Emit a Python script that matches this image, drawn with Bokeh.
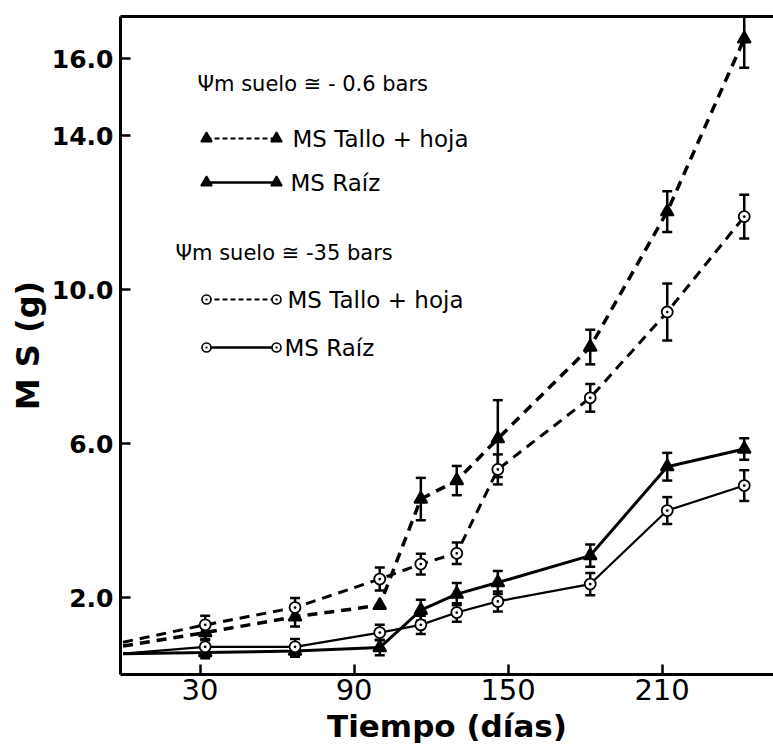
from bokeh.plotting import figure
from bokeh.models import (Range1d, FixedTicker, LinearAxis, Whisker, TeeHead,
                          ColumnDataSource, Label)
from bokeh.embed import file_html
from bokeh.resources import INLINE

# ---------------- data ----------------
days = [32, 67, 100, 116, 130, 146, 182, 212, 242]
start_day = 0

tallo_06 = [1.09, 1.50, 1.80, 4.56, 5.04, 6.13, 8.51, 12.03, 16.52]
tallo_06_err = [0.20, 0.25, 0.0, 0.55, 0.38, 1.00, 0.45, 0.53, 0.75]
tallo_06_start = 0.74

raiz_06 = [0.57, 0.61, 0.70, 1.67, 2.09, 2.39, 3.09, 5.40, 5.86]
raiz_06_err = [0.15, 0.15, 0.20, 0.27, 0.29, 0.30, 0.29, 0.36, 0.28]
raiz_06_start = 0.54

tallo_35 = [1.29, 1.74, 2.48, 2.87, 3.15, 5.33, 7.19, 9.42, 11.90]
tallo_35_err = [0.24, 0.25, 0.30, 0.27, 0.28, 0.39, 0.36, 0.74, 0.57]
tallo_35_start = 0.84

raiz_35 = [0.72, 0.72, 1.09, 1.29, 1.61, 1.90, 2.35, 4.26, 4.91]
raiz_35_err = [0.20, 0.20, 0.20, 0.24, 0.24, 0.26, 0.29, 0.35, 0.40]
raiz_35_start = 0.54

x_ticks = [30, 90, 150, 210]
y_ticks = [2, 6, 10, 14, 16]
y_tick_labels = {2: "2.0", 6: "6.0", 10: "10.0", 14: "14.0", 16: "16.0"}

x_title = "Tiempo (días)"
y_title = "M S (g)"
header_06 = "Ψm suelo ≅ - 0.6 bars"
header_35 = "Ψm suelo ≅ -35 bars"
label_tallo = "MS  Tallo + hoja"
label_raiz = "MS  Raíz"

# ---------------- layout ----------------
LEFT, TOP = 120, 16
FRAME_W, FRAME_H = 653, 658
X0, X1 = -1, 253.4
Y0, Y1 = 0, 17.1
BOTTOM = TOP + FRAME_H

FONT = "DejaVu Sans"

p = figure(width=LEFT + FRAME_W, height=750,
           frame_width=FRAME_W, frame_height=FRAME_H,
           x_range=Range1d(X0, X1), y_range=Range1d(Y0, Y1),
           output_backend="svg", toolbar_location=None,
           min_border_left=LEFT, min_border_right=0,
           min_border_top=TOP, min_border_bottom=750 - BOTTOM)
p.outline_line_color = None
p.xgrid.visible = False
p.ygrid.visible = False
p.background_fill_color = "white"
p.border_fill_color = "white"

# axes
xa = p.xaxis[0]
xa.ticker = FixedTicker(ticks=x_ticks)
xa.axis_line_width = 3
xa.major_tick_line_width = 2.5
xa.major_tick_in = 10
xa.major_tick_out = 0
xa.minor_tick_line_color = None
xa.major_label_text_font = FONT
xa.major_label_text_font_size = "29px"
xa.major_label_text_color = "black"
xa.major_label_standoff = 4
xa.axis_label = x_title
xa.axis_label_text_font = FONT
xa.axis_label_text_font_size = "31px"
xa.axis_label_text_font_style = "bold"
xa.axis_label_text_color = "black"
xa.axis_label_standoff = 5

ya = p.yaxis[0]
ya.ticker = FixedTicker(ticks=y_ticks)
ya.major_label_overrides = y_tick_labels
ya.axis_line_width = 3
ya.major_tick_line_width = 2.5
ya.major_tick_in = 10
ya.major_tick_out = 0
ya.minor_tick_line_color = None
ya.major_label_text_font = FONT
ya.major_label_text_font_size = "25px"
ya.major_label_text_font_style = "bold"
ya.major_label_text_color = "black"
ya.major_label_standoff = 7
ya.axis_label = y_title
ya.axis_label_text_font = FONT
ya.axis_label_text_font_size = "32px"
ya.axis_label_text_font_style = "bold"
ya.axis_label_text_color = "black"
ya.axis_label_standoff = 2

top_axis = LinearAxis(axis_line_width=3, major_tick_line_color=None,
                      minor_tick_line_color=None, major_label_text_color=None,
                      major_label_text_font_size="1px")
p.add_layout(top_axis, "above")


def series(y_vals, y_err, y_start, marker, dash, lw, size, fill):
    xs = [start_day] + days
    ys = [y_start] + y_vals
    p.line(xs, ys, line_color="black", line_width=lw, line_dash=dash)
    keep = [i for i, e in enumerate(y_err) if e > 0]
    src = ColumnDataSource(dict(
        x=[days[i] for i in keep],
        lo=[y_vals[i] - y_err[i] for i in keep],
        hi=[y_vals[i] + y_err[i] for i in keep]))
    w = Whisker(source=src, base="x", lower="lo", upper="hi",
                line_color="black", line_width=2.5,
                lower_head=TeeHead(size=10, line_width=2.5, line_color="black"),
                upper_head=TeeHead(size=10, line_width=2.5, line_color="black"))
    p.add_layout(w)
    p.scatter(days, y_vals, marker=marker, size=size, fill_color=fill,
              line_color="black", line_width=1.8)


series(tallo_06, tallo_06_err, tallo_06_start, "triangle", "10 7", 3.5, 13, "black")
series(tallo_35, tallo_35_err, tallo_35_start, "circle_dot", "10 7", 3.0, 11, "white")
series(raiz_06, raiz_06_err, raiz_06_start, "triangle", "solid", 3.0, 13, "black")
series(raiz_35, raiz_35_err, raiz_35_start, "circle_dot", "solid", 2.2, 11, "white")


# ---------------- legend (custom, screen layout converted to data) ----------------
def xd(px):
    return X0 + (px - LEFT) * (X1 - X0) / FRAME_W


def yd(py):
    return Y0 + (BOTTOM - py) * (Y1 - Y0) / FRAME_H


def sample(py, marker, dash, size, fill, lw):
    xs = [xd(206), xd(276)]
    ys = [yd(py), yd(py)]
    p.line(xs, ys, line_color="black", line_width=lw, line_dash=dash)
    p.scatter(xs, ys, marker=marker, size=size, fill_color=fill,
              line_color="black", line_width=1.6)


def text(px, py, s, size, style="normal"):
    p.add_layout(Label(x=px - LEFT, y=BOTTOM - py, x_units="screen", y_units="screen",
                       text=s, text_font=FONT, text_font_size=size,
                       text_font_style=style, text_color="black",
                       text_baseline="middle", text_align="left"))


text(197, 83, header_06, "21px")
sample(138, "triangle", "5 3", 11, "black", 2)
text(292, 138, label_tallo, "23px")
sample(182, "triangle", "solid", 11, "black", 2.5)
text(290, 182, label_raiz, "23px")

text(175, 252, header_35, "21px")
sample(299, "circle_dot", "5 3", 9, "white", 2)
text(287, 299, label_tallo, "23px")
sample(347, "circle_dot", "solid", 9, "white", 2.5)
text(284, 347, label_raiz, "23px")

open("out.html", "w").write(file_html(p, INLINE))
